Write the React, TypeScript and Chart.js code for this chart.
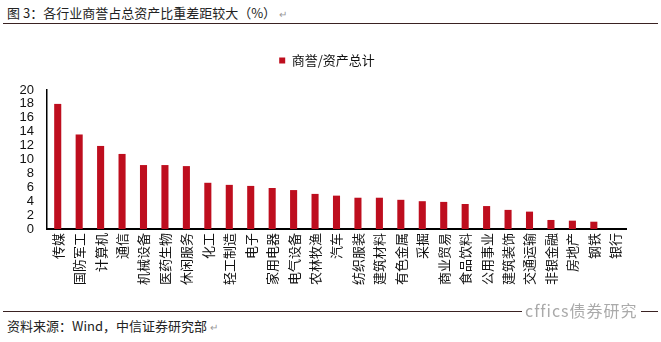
import React, { useEffect, useRef } from "react";
import { Chart, registerables } from "chart.js";

Chart.register(...registerables);

const categories = [
  "传媒", "国防军工", "计算机", "通信", "机械设备", "医药生物", "休闲服务", "化工", "轻工制造",
  "电子", "家用电器", "电气设备", "农林牧渔", "汽车", "纺织服装", "建筑材料", "有色金属", "采掘",
  "商业贸易", "食品饮料", "公用事业", "建筑装饰", "交通运输", "非银金融", "房地产", "钢铁", "银行",
];
const goodwillRatio = [
  18.0, 13.6, 11.95, 10.8, 9.2, 9.2, 9.05, 6.65, 6.35,
  6.2, 5.9, 5.6, 5.05, 4.8, 4.5, 4.5, 4.2, 4.0,
  3.9, 3.6, 3.3, 2.75, 2.5, 1.3, 1.2, 1.05, 0,
];
const seriesName = "商誉/资产总计";
const yTicks = [0, 2, 4, 6, 8, 10, 12, 14, 16, 18, 20];

const titleText = "图 3：各行业商誉占总资产比重差距较大（%）";
const sourceText = "资料来源：Wind，中信证券研究部";

const CANVAS_TOP = 36;
const CANVAS_H = 272;
const AREA_TOP = 90 - CANVAS_TOP;
const AREA_BOTTOM = 229 - CANVAS_TOP;
const LEGEND_TOP_PAD = 8;
const LEGEND_SHIFT_X = 14;

const legendTweak = {
  id: "legendTweak",
  beforeLayout(chart: any) {
    const lg = chart.legend;
    if (lg && !lg.__patched) {
      const orig = lg.fit.bind(lg);
      lg.fit = function () {
        orig();
        this.height = AREA_TOP - LEGEND_TOP_PAD;
      };
      lg.__patched = true;
    }
  },
  afterLayout(chart: any) {
    const lg = chart.legend;
    if (lg) {
      lg.left += LEGEND_SHIFT_X;
      lg.right += LEGEND_SHIFT_X;
    }
  },
};

export default function App() {
  const ref = useRef<HTMLCanvasElement>(null);
  useEffect(() => {
    if (!ref.current) return;
    const chart = new Chart(ref.current, {
      type: "bar",
      data: {
        labels: categories,
        datasets: [
          {
            label: seriesName,
            data: goodwillRatio,
            backgroundColor: "#BE0E1E",
            borderWidth: 0,
            barPercentage: 0.33,
            categoryPercentage: 1,
          },
        ],
      },
      plugins: [legendTweak],
      options: {
        animation: false,
        responsive: false,
        layout: { padding: { top: LEGEND_TOP_PAD, right: 35, left: 0, bottom: 0 } },
        plugins: {
          legend: {
            display: true,
            position: "top",
            labels: {
              boxWidth: 6,
              boxHeight: 6,
              padding: 10,
              color: "#111",
              font: { family: "'Noto Sans CJK SC', 'Liberation Sans', sans-serif", size: 13 },
            },
          },
          tooltip: { enabled: false },
        },
        scales: {
          x: {
            grid: { display: false, drawTicks: false },
            border: { display: true, color: "#000", width: 2 },
            ticks: {
              minRotation: 90,
              maxRotation: 90,
              autoSkip: false,
              padding: 4,
              color: "#111",
              font: { family: "'Noto Sans CJK SC', sans-serif", size: 13 },
            },
            afterFit: (s: any) => {
              s.height = CANVAS_H - AREA_BOTTOM;
            },
          },
          y: {
            min: 0,
            max: 20,
            afterBuildTicks: (s: any) => {
              s.ticks = yTicks.map((v) => ({ value: v }));
            },
            grid: { display: false, drawTicks: true, tickLength: 3, tickColor: "#000" },
            border: { display: true, color: "#000", width: 1.5 },
            ticks: {
              autoSkip: false,
              padding: 10,
              color: "#111",
              font: { family: "'Liberation Sans', Arial, sans-serif", size: 13 },
            },
            afterFit: (s: any) => {
              s.width = 47;
            },
          },
        },
      },
    });
    return () => chart.destroy();
  }, []);

  return (
    <div
      style={{
        position: "fixed",
        left: 0,
        top: 0,
        width: 661,
        height: 342,
        background: "#fff",
        overflow: "hidden",
        fontFamily: "'Noto Sans CJK SC', 'Liberation Sans', sans-serif",
      }}
    >
      <div style={{ position: "absolute", left: 7, top: 4, fontSize: 13, color: "#222", lineHeight: "18px", whiteSpace: "nowrap" }}>
        {titleText}
        <span style={{ color: "#999", fontSize: 10, marginLeft: 3 }}>↵</span>
      </div>
      <div style={{ position: "absolute", left: 3, top: 23, width: 655, height: 1, background: "#3a2222" }} />
      <canvas
        ref={ref}
        width={661}
        height={CANVAS_H}
        style={{ position: "absolute", left: 0, top: CANVAS_TOP, width: 661, height: CANVAS_H }}
      />
      <div style={{ position: "absolute", left: 3, top: 311, width: 655, height: 1, background: "#3a2222" }} />
      <div style={{ position: "absolute", left: 522, top: 301, fontSize: 16, letterSpacing: 1, color: "#aaa", background: "#fff", padding: "0 3px", lineHeight: "18px", whiteSpace: "nowrap" }}>
        cffics债券研究
      </div>
      <div style={{ position: "absolute", left: 7, top: 317, fontSize: 13, color: "#222", lineHeight: "18px", whiteSpace: "nowrap" }}>
        {sourceText}
        <span style={{ color: "#999", fontSize: 10, marginLeft: 3 }}>↵</span>
      </div>
    </div>
  );
}
